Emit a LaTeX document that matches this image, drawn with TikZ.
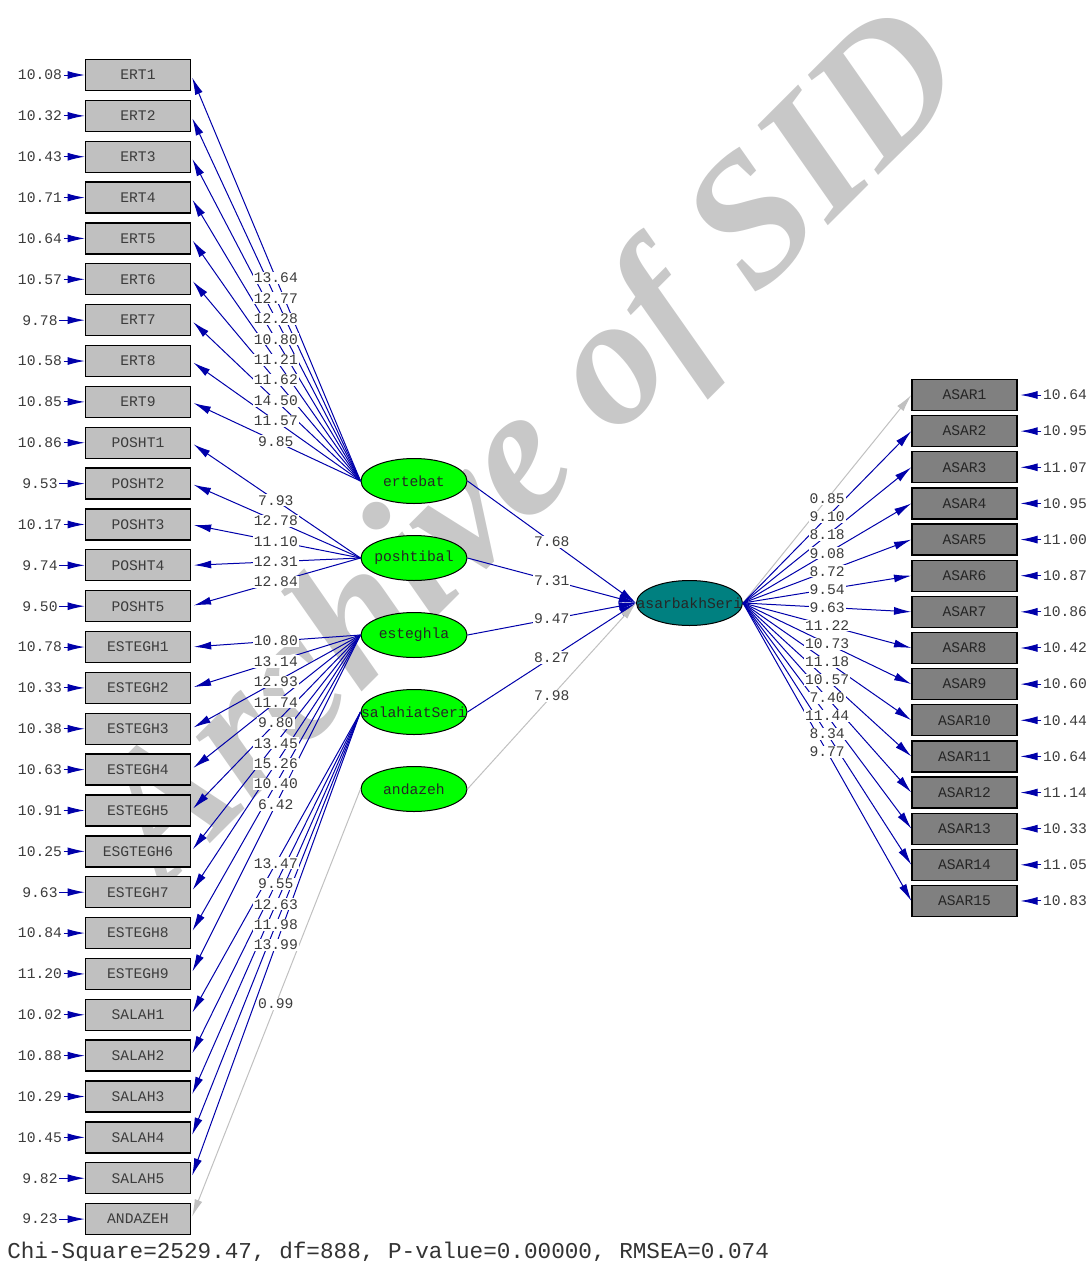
\documentclass[tikz,border=0pt]{standalone}
\usepackage{fontspec}
\setmonofont{Liberation Mono}
\newfontfamily\wmfont{Liberation Serif}
\usetikzlibrary{shapes.geometric,arrows.meta}

\definecolor{lisblue}{RGB}{0,0,170}
\definecolor{lisgray}{RGB}{192,192,192}
\definecolor{boxgray}{RGB}{192,192,192}
\definecolor{boxdark}{RGB}{128,128,128}
\definecolor{latgreen}{RGB}{0,255,0}
\definecolor{latteal}{RGB}{0,128,128}
\definecolor{wmgray}{RGB}{200,200,200}
\definecolor{txtgray}{RGB}{60,60,60}

\newcommand\lisfont{\ttfamily\fontsize{11}{13}\selectfont}

\tikzset{
  obs/.style={draw=black, line width=1pt, fill=boxgray, minimum width=78.75pt,
    minimum height=23.25pt, inner sep=0pt, font=\lisfont, text=txtgray},
  obsdark/.style={obs, fill=boxdark, text=black!85},
  latent/.style={ellipse, draw=black, line width=0.75pt, fill=latgreen,
    minimum width=79.5pt, minimum height=33.75pt, inner sep=0pt},
  errval/.style={font=\lisfont, text=txtgray, inner sep=1pt},
  tval/.style={fill=white, inner sep=0.8pt, font=\lisfont, text=txtgray},
  load/.style={line width=0.75pt, -{Latex[length=13pt,width=6pt]}},
  err/.style={line width=0.75pt, color=lisblue, -{Latex[length=13pt,width=6pt]}},
  wm/.style={font=\wmfont\bfseries\itshape\fontsize{138}{138}\selectfont,
    text=wmgray, rotate=45, inner sep=0pt}
}

\def\leftloads{ertebat/1/13.64/lisblue, ertebat/2/12.77/lisblue, ertebat/3/12.28/lisblue,
  ertebat/4/10.80/lisblue, ertebat/5/11.21/lisblue, ertebat/6/11.62/lisblue,
  ertebat/7/14.50/lisblue, ertebat/8/11.57/lisblue, ertebat/9/9.85/lisblue,
  poshtibal/10/7.93/lisblue, poshtibal/11/12.78/lisblue, poshtibal/12/11.10/lisblue,
  poshtibal/13/12.31/lisblue, poshtibal/14/12.84/lisblue,
  esteghla/15/10.80/lisblue, esteghla/16/13.14/lisblue, esteghla/17/12.93/lisblue,
  esteghla/18/11.74/lisblue, esteghla/19/9.80/lisblue, esteghla/20/13.45/lisblue,
  esteghla/21/15.26/lisblue, esteghla/22/10.40/lisblue, esteghla/23/6.42/lisblue,
  salahiat/24/13.47/lisblue, salahiat/25/9.55/lisblue, salahiat/26/12.63/lisblue,
  salahiat/27/11.98/lisblue, salahiat/28/13.99/lisblue, andazeh/29/0.99/lisgray}
\def\midloads{ertebat/7.68/lisblue, poshtibal/7.31/lisblue, esteghla/9.47/lisblue,
  salahiat/8.27/lisblue, andazeh/7.98/lisgray}
\def\rightloads{1/0.85/lisgray, 2/9.10/lisblue, 3/8.18/lisblue, 4/9.08/lisblue,
  5/8.72/lisblue, 6/9.54/lisblue, 7/9.63/lisblue, 8/11.22/lisblue, 9/10.73/lisblue,
  10/11.18/lisblue, 11/10.57/lisblue, 12/7.40/lisblue, 13/11.44/lisblue,
  14/8.34/lisblue, 15/9.77/lisblue}

\begin{document}
\begin{tikzpicture}[x=0.75pt, y=-0.75pt,
    every label/.style={font=\lisfont, text=black!85}]
  \useasboundingbox (0,0) rectangle (1091,1261);

  % watermark behind everything
  \node[wm] (wmark) at (537,453) {Archive of SID};

  % observed variables, left column
  \foreach \nm/\er [count=\i] in {ERT1/10.08, ERT2/10.32, ERT3/10.43, ERT4/10.71,
      ERT5/10.64, ERT6/10.57, ERT7/9.78, ERT8/10.58, ERT9/10.85, POSHT1/10.86,
      POSHT2/9.53, POSHT3/10.17, POSHT4/9.74, POSHT5/9.50, ESTEGH1/10.78,
      ESTEGH2/10.33, ESTEGH3/10.38, ESTEGH4/10.63, ESTEGH5/10.91, ESGTEGH6/10.25,
      ESTEGH7/9.63, ESTEGH8/10.84, ESTEGH9/11.20, SALAH1/10.02, SALAH2/10.88,
      SALAH3/10.29, SALAH4/10.45, SALAH5/9.82, ANDAZEH/9.23} {
    \node[obs] (x\i) at (138,{75+40.86*(\i-1)}) {\nm};
    \node[errval] (d\i) at (40,{75+40.86*(\i-1)}) {\er};
    \draw[err] (d\i) -- (x\i);
  }

  % observed variables, right column
  \foreach \er [count=\j] in {10.64, 10.95, 11.07, 10.95, 11.00, 10.87, 10.86,
      10.42, 10.60, 10.44, 10.64, 11.14, 10.33, 11.05, 10.83} {
    \node[obsdark] (y\j) at (964.5,{395+36.14*(\j-1)}) {ASAR\j};
    \node[errval] (e\j) at (1065,{395+36.14*(\j-1)}) {\er};
    \draw[err, shorten >=2pt] (e\j) -- (y\j);
  }

  % latent variables
  \node[latent, label=center:ertebat] (ertebat) at (414,481) {};
  \node[latent, label=center:poshtibal] (poshtibal) at (414,558) {};
  \node[latent, label=center:esteghla] (esteghla) at (414,635) {};
  \node[latent, label=center:salahiatSeri] (salahiat) at (414,712) {};
  \node[latent, label=center:andazeh] (andazeh) at (414,789) {};
  \node[latent, fill=latteal, label=center:asarbakhSeri] (asarbakh) at (689.5,603) {};

  % paths
  \foreach \lat/\k/\t/\c in \leftloads
    \draw[load, color=\c, shorten >=2pt] (\lat.west) -- (x\k.east);
  \foreach \lat/\t/\c in \midloads
    \draw[load, color=\c] (\lat.east) -- (asarbakh.west);
  \foreach \k/\t/\c in \rightloads
    \draw[load, color=\c] (asarbakh.east) -- (y\k.west);

  % t-values on top of the paths
  \foreach \lat/\k/\t/\c in \leftloads
    \path (\lat.west) -- node[tval] {\t} (x\k.east);
  \foreach \lat/\t/\c in \midloads
    \path (\lat.east) -- node[tval] {\t} (asarbakh.west);
  \foreach \k/\t/\c in \rightloads
    \path (asarbakh.east) -- node[tval] {\t} (y\k.west);

  \node[anchor=west, inner sep=0pt, text=black!80,
    font=\ttfamily\fontsize{17}{19}\selectfont] (fit) at (7,1253)
    {Chi-Square=2529.47, df=888, P-value=0.00000, RMSEA=0.074};
\end{tikzpicture}
\end{document}
